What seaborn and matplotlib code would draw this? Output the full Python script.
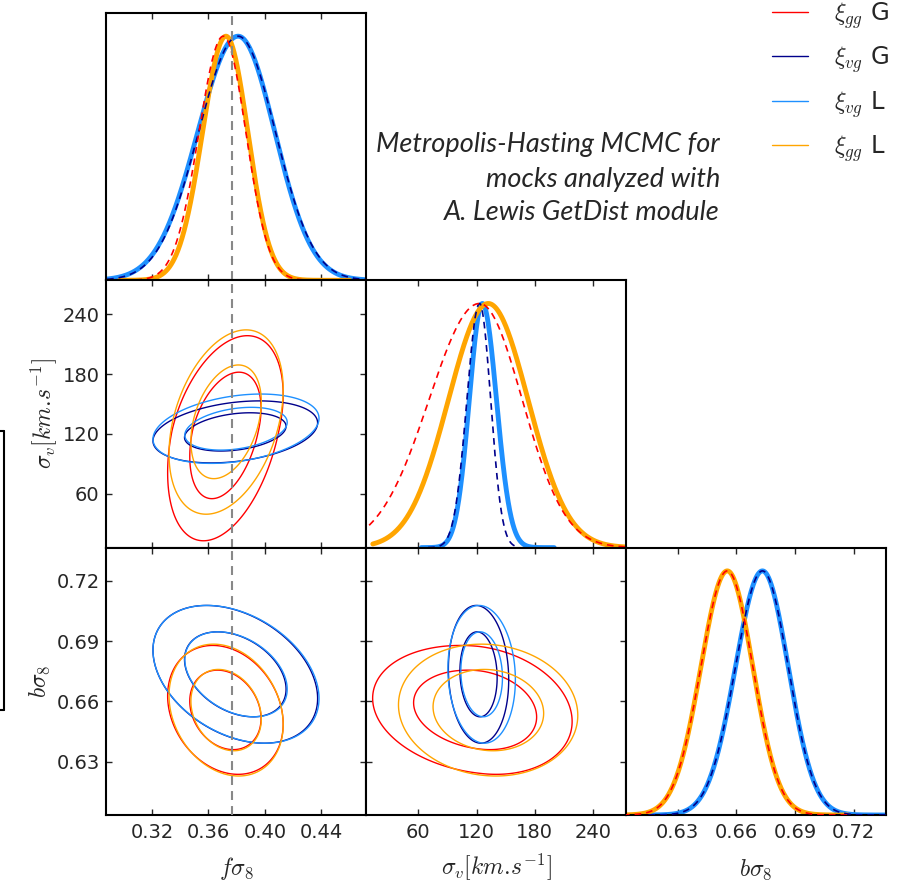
import numpy as np
import pandas as pd
import matplotlib
matplotlib.use("Agg")
import matplotlib.pyplot as plt
from matplotlib.lines import Line2D
import seaborn as sns

sns.set_style("ticks")
plt.rcParams.update({
    "font.family": ["DejaVu Sans"],
    "mathtext.fontset": "cm",
    "axes.linewidth": 1.5,
    "axes.edgecolor": "black",
})

# ---- chains -------------------------------------------------------------
CHAIN_LABELS = [r"$\xi_{gg}$ G", r"$\xi_{vg}$ G", r"$\xi_{vg}$ L", r"$\xi_{gg}$ L"]
CHAIN_COLORS = ["#ff0000", "#00008b", "#1e90ff", "#ffa500"]

# ---- parameters ---------------------------------------------------------
PARAM_LABELS = [r"$f\sigma_8$", r"$\sigma_v[km.\!s^{-1}]$", r"$b\sigma_8$"]
PARAM_LIMITS = [(0.2875, 0.4715), (6.0, 274.0), (0.6035, 0.7365)]
PARAM_TICKS = [[0.32, 0.36, 0.40, 0.44], [60, 120, 180, 240], [0.63, 0.66, 0.69, 0.72]]
TICK_LABELS = [["0.32", "0.36", "0.40", "0.44"],
               ["60", "120", "180", "240"],
               ["0.63", "0.66", "0.69", "0.72"]]
FS8_FIDUCIAL = 0.3767

# ---- 1D marginals: peak, width below / above peak, sampled range ---------
FS8_PEAK = [0.3705, 0.381, 0.381, 0.3724]
FS8_WLO = [0.0172, 0.0280, 0.0286, 0.0166]
FS8_WHI = [0.0160, 0.0265, 0.0260, 0.0155]
FS8_LO = [0.30, 0.28, 0.28, 0.297]
FS8_HI = [0.45, 0.48, 0.48, 0.46]

SV_PEAK = [123.0, 123.0, 126.0, 132.0]
SV_WLO = [52.0, 13.0, 13.5, 41.0]
SV_WHI = [44.0, 11.5, 14.5, 41.0]
SV_LO = [0.0, 70.0, 63.0, 13.0]
SV_HI = [280.0, 160.0, 200.0, 280.0]

BS8_PEAK = [0.6553, 0.6733, 0.6733, 0.6553]
BS8_WLO = [0.0135, 0.0138, 0.0138, 0.0135]
BS8_WHI = [0.0131, 0.0132, 0.0132, 0.0131]
BS8_LO = [0.59, 0.615, 0.615, 0.59]
BS8_HI = [0.717, 0.75, 0.75, 0.717]

# ---- 2D posteriors: centre, widths, correlations -------------------------
FS8_C = [0.3720, 0.3790, 0.3795, 0.3725]
FS8_S = [0.0167, 0.0238, 0.0240, 0.0165]
SV_C = [123.0, 122.0, 125.2, 132.5]
SV_SLO = [45.0, 12.7, 14.2, 38.0]
SV_SHI = [39.0, 12.7, 14.2, 37.5]
BS8_C = [0.6558, 0.6735, 0.6735, 0.6557]
BS8_S = [0.0131, 0.0140, 0.0140, 0.0134]
RHO_FS8_SV = [0.38, 0.29, 0.30, 0.35]
RHO_FS8_BS8 = [-0.22, -0.35, -0.35, -0.22]
RHO_SV_BS8 = [-0.18, -0.08, -0.08, -0.08]

CONF_LEVELS = [0.68, 0.95]

# ---- assemble tables ----------------------------------------------------
marg = {
    0: (FS8_PEAK, FS8_WLO, FS8_WHI, FS8_LO, FS8_HI),
    1: (SV_PEAK, SV_WLO, SV_WHI, SV_LO, SV_HI),
    2: (BS8_PEAK, BS8_WLO, BS8_WHI, BS8_LO, BS8_HI),
}
post = {
    0: (FS8_C, FS8_S, FS8_S),
    1: (SV_C, SV_SLO, SV_SHI),
    2: (BS8_C, BS8_S, BS8_S),
}
rho = {(0, 1): RHO_FS8_SV, (0, 2): RHO_FS8_BS8, (1, 2): RHO_SV_BS8}


def split_std(x, c, wlo, whi):
    return np.where(x < c, (x - c) / wlo, (x - c) / whi)


rows = []
for p in range(3):
    peak, wlo, whi, lo, hi = marg[p]
    for k in range(4):
        xs = np.linspace(lo[k], hi[k], 700)
        dens = np.exp(-0.5 * split_std(xs, peak[k], wlo[k], whi[k]) ** 2)
        rows.append(pd.DataFrame({"param": p, "chain": k, "x": xs, "density": dens}))
marginals = pd.DataFrame(pd.concat(rows, ignore_index=True))

# ---- figure -------------------------------------------------------------
W, H = 898, 884
fig = plt.figure(figsize=(W / 100, H / 100), dpi=100)

col_px = [106, 366, 626]
row_px = [13, 280.3, 547.7]
pw, ph = 260, 267.3

axes = {}
for i in range(3):
    for j in range(i + 1):
        ax = fig.add_axes([col_px[j] / W, 1 - (row_px[i] + ph) / H, pw / W, ph / H])
        axes[(i, j)] = ax

style_1d = {
    0: dict(lw=1.2, linestyle=(0, (4, 3)), zorder=4),
    1: dict(lw=1.2, linestyle=(0, (4, 3)), zorder=3),
    2: dict(lw=3.5, linestyle="-", zorder=2),
    3: dict(lw=3.5, linestyle="-", zorder=2.5),
}
contour_order = [3, 2, 1, 0]
r2_levels = [-2 * np.log(1 - c) for c in CONF_LEVELS]

for (i, j), ax in axes.items():
    ax.set_xlim(*PARAM_LIMITS[j])
    ax.set_xticks(PARAM_TICKS[j])
    if i == j:
        sub = marginals[marginals["param"] == i]
        for k in range(4):
            d = sub[sub["chain"] == k]
            sns.lineplot(data=d, x="x", y="density", ax=ax, color=CHAIN_COLORS[k],
                         estimator=None, sort=True, **style_1d[k])
        ax.set_ylim(0, 1.095)
        ax.set_yticks([])
        ax.tick_params(axis="y", left=False, right=False)
    else:
        ax.set_ylim(*PARAM_LIMITS[i])
        ax.set_yticks(PARAM_TICKS[i])
        gx = np.linspace(*PARAM_LIMITS[j], 400)
        gy = np.linspace(*PARAM_LIMITS[i], 400)
        X, Y = np.meshgrid(gx, gy)
        cx, sxlo, sxhi = post[j]
        cy, sylo, syhi = post[i]
        r = rho[(j, i)]
        for k in contour_order:
            u = split_std(X, cx[k], sxlo[k], sxhi[k])
            v = split_std(Y, cy[k], sylo[k], syhi[k])
            Q = (u ** 2 - 2 * r[k] * u * v + v ** 2) / (1 - r[k] ** 2)
            ax.contour(X, Y, Q, levels=r2_levels, colors=CHAIN_COLORS[k],
                       linewidths=1.0, zorder=2 + k * 0.1)
        ax.tick_params(axis="y", direction="in", left=True, right=True,
                       length=4, width=1, labelsize=14, pad=4.5)
    if j == 0 and i > 0:
        ax.set_yticklabels(TICK_LABELS[i])
        ax.set_ylabel(PARAM_LABELS[i], fontsize=17, labelpad=3)
    elif i != j:
        ax.set_yticklabels([])
        ax.set_ylabel("")
    ax.tick_params(axis="x", direction="in", top=True, bottom=True,
                   length=4, width=1, labelsize=14, pad=6)
    if i == 2:
        ax.set_xticklabels(TICK_LABELS[j])
        ax.set_xlabel(PARAM_LABELS[j], fontsize=17)
        ax.xaxis.label.set_va("bottom")
        ax.xaxis.set_label_coords(0.5, (row_px[2] + ph - 882) / ph)
    else:
        ax.set_xticklabels([])
        ax.set_xlabel("")
    if i == j:
        ax.set_ylabel("")
    if j == 0:
        ax.axvline(FS8_FIDUCIAL, color="#888888", lw=1.5,
                   linestyle=(0, (4.3, 2.9)), zorder=5)
    for s in ax.spines.values():
        s.set_linewidth(1.5)
        s.set_visible(True)

# ---- legend -------------------------------------------------------------
handles = [Line2D([], [], color=c, lw=1.0) for c in CHAIN_COLORS]
fig.legend(handles, CHAIN_LABELS, loc="upper right",
           bbox_to_anchor=(889 / W, 1 - 0 / H), frameon=False, fontsize=17.5,
           handlelength=1.5, handletextpad=1.05, labelspacing=0.57,
           borderpad=0, borderaxespad=0)

# ---- annotation ---------------------------------------------------------
note = ["Metropolis-Hasting MCMC for", "mocks analyzed with", "A. Lewis GetDist module"]
for line, yb in zip(note, [151.7, 186.7, 220.0]):
    fig.text(720 / W, 1 - yb / H, line, ha="right", va="baseline",
             fontsize=19.5, style="italic", family="Lato")

# bracket at the left margin
for xs, ys in [([4, 4], [431, 710]), ([0, 4], [431, 431]), ([0, 4], [710, 710])]:
    fig.add_artist(Line2D([x / W for x in xs], [1 - y / H for y in ys],
                          color="black", lw=1.5, transform=fig.transFigure))

fig.savefig("out.png", dpi=100)
